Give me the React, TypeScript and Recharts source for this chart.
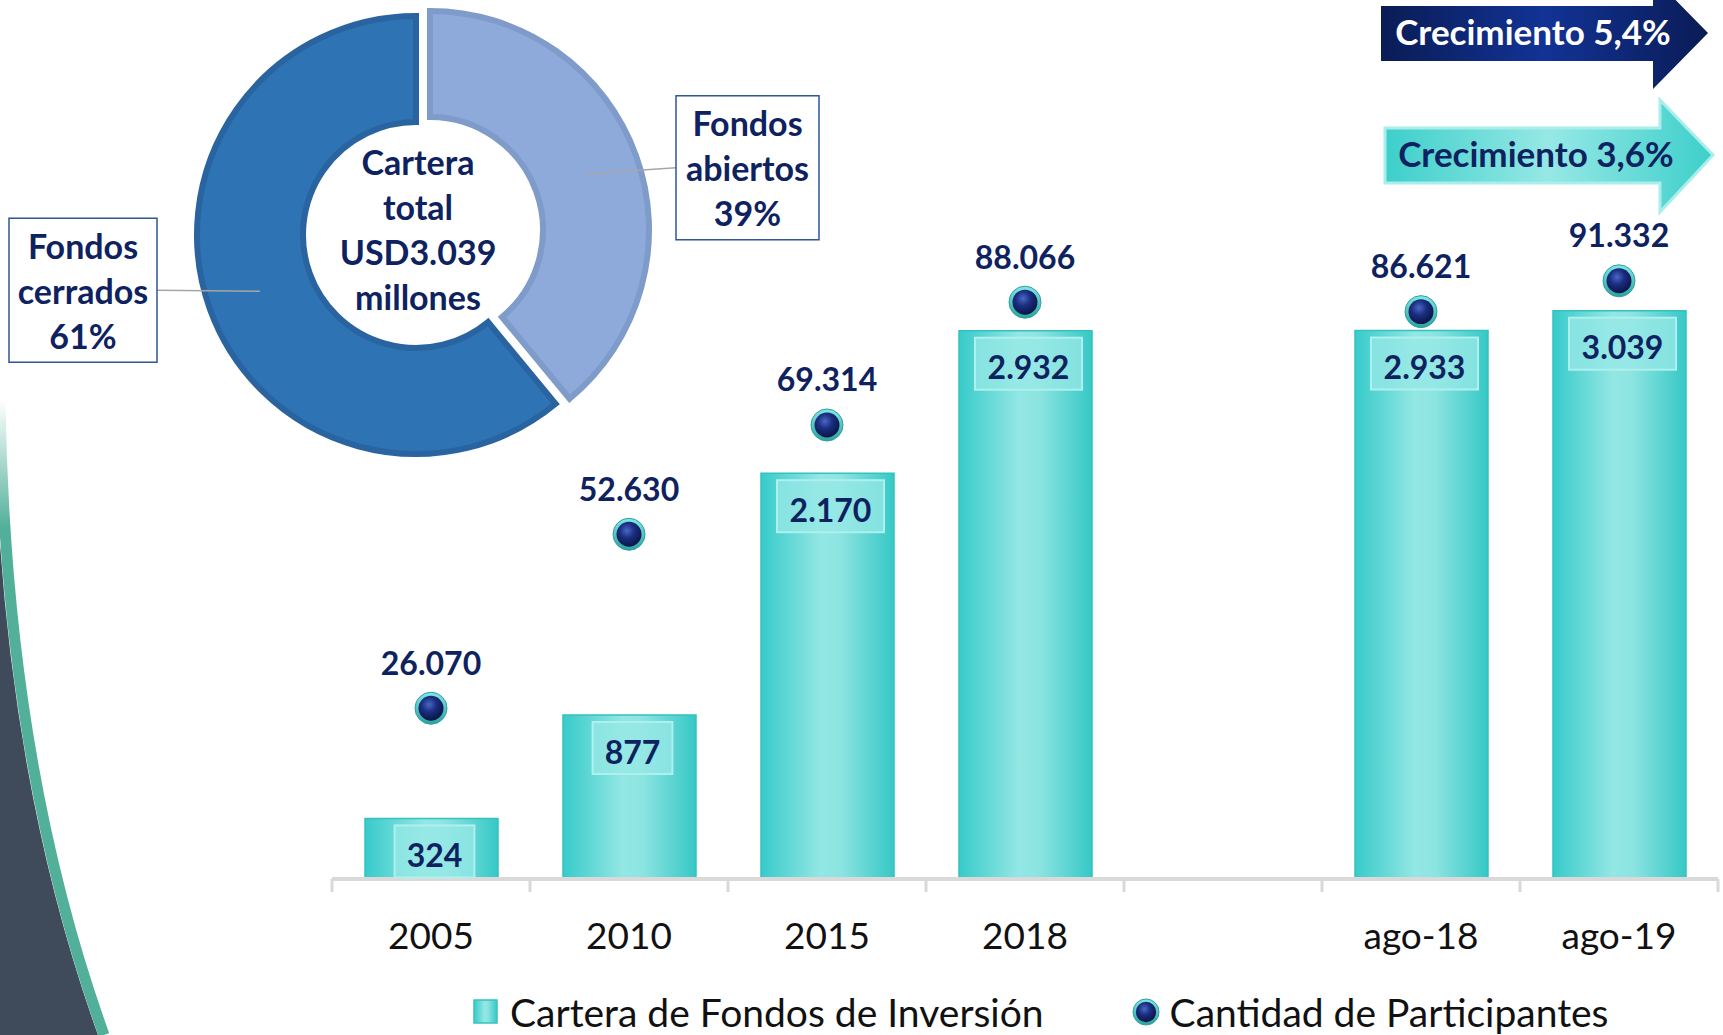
import React from 'react'
import { ComposedChart, Bar, Line, XAxis, YAxis, LabelList, Legend, PieChart, Pie, Cell } from 'recharts'

// ---- data ----
const categories = ['2005', '2010', '2015', '2018', ' ', 'ago-18', 'ago-19']
const cartera = [324, 877, 2170, 2932, null, 2933, 3039]
const participantes = [26070, 52630, 69314, 88066, null, 86621, 91332]

const pieNames = ['Fondos abiertos', 'Fondos cerrados']
const pieValues = [39, 61]
const centerLines = ['Cartera', 'total', 'USD3.039', 'millones']
const growthLabels = ['Crecimiento 5,4%', 'Crecimiento 3,6%']

const seriesNames = ['Cartera de Fondos de Inversión', 'Cantidad de Participantes']

const chartData = categories.map((cat, i) => ({ cat, cartera: cartera[i], participantes: participantes[i] }))
const pieData = pieNames.map((name, i) => ({ name, value: pieValues[i] }))

const NAVY = '#0e225f'
const FONT = 'Lato, "Open Sans", sans-serif'
const DARK = '#2e74b5'
const DARK_STROKE = '#2964a0'
const LIGHT = '#8eaadb'
const LIGHT_STROKE = '#7e9bca'
const AXIS_GRAY = '#d9d9d9'

const PLOT_LEFT = 332
const PLOT_RIGHT = 1718
const BAND = (PLOT_RIGHT - PLOT_LEFT) / categories.length

const fmt = (n: number) => String(n).replace(/\B(?=(\d{3})+(?!\d))/g, '.')

// category label + tick marks on the category boundaries
const CategoryTick = ({ x, y, payload, index }: any) => (
  <g>
    <line x1={x - BAND / 2} y1={y} x2={x - BAND / 2} y2={y + 13} stroke={AXIS_GRAY} strokeWidth={3} />
    {index === categories.length - 1 && (
      <line x1={x + BAND / 2} y1={y} x2={x + BAND / 2} y2={y + 13} stroke={AXIS_GRAY} strokeWidth={3} />
    )}
    <text x={x} y={y + 55} textAnchor="middle" dominantBaseline="central" fontSize={37} fill="#111" fontFamily={FONT}>
      {payload.value}
    </text>
  </g>
)

const BarValueLabel = (props: any) => {
  const { x, y, width, height, value } = props
  if (value == null) return null
  const text = fmt(value)
  const dots = (text.match(/\./g) || []).length
  const tw = (text.length - dots) * 18.6 + dots * 8.6
  const bw = tw + 24
  const cx = x + width / 2 + 3
  const bh = Math.min(52, height - 5)
  return (
    <g>
      <rect x={cx - bw / 2} y={y + 7} width={bw} height={bh} fill="#97e8e5" fillOpacity={0.75} stroke="#aef0ed" strokeWidth={2} />
      <text x={cx} y={y + 36} textAnchor="middle" dominantBaseline="central" fontSize={32} fontWeight={700} fill={NAVY} fontFamily={FONT}>
        {text}
      </text>
    </g>
  )
}

const ParticipantLabel = (props: any) => {
  const { x, y, value } = props
  if (value == null) return null
  return (
    <text x={x} y={y - 46} textAnchor="middle" dominantBaseline="central" fontSize={32} fontWeight={700} fill={NAVY} fontFamily={FONT}>
      {fmt(value)}
    </text>
  )
}

const Sphere = ({ cx, cy, r }: { cx: number; cy: number; r: number }) => (
  <g>
    <circle cx={cx} cy={cy} r={r} fill="url(#ringGrad)" stroke="#2f9f9d" strokeWidth={1} />
    <circle cx={cx} cy={cy} r={r * 0.78} fill="url(#sphereGrad)" />
  </g>
)

const renderDot = (props: any) => {
  const { cx, cy, index } = props
  if (cy == null || isNaN(cy)) return <g key={`d${index}`} />
  return <g key={`d${index}`}><Sphere cx={cx} cy={cy} r={16} /></g>
}

const renderPieLabel = (props: any, withCenter: boolean) => {
  const { cx, cy, midAngle, innerRadius, outerRadius, name, value } = props
  const RAD = Math.PI / 180
  const r = (innerRadius + outerRadius) / 2
  const cos = Math.cos(-midAngle * RAD)
  const px = cx + r * cos
  const py = cy + r * Math.sin(-midAngle * RAD)
  const right = cos > 0
  const edge = right ? cx + 246 : cx - 259
  const w = right ? 143 : 148
  const h = 144
  const bx = right ? edge : edge - w
  const my = py + (right ? -6 : -1)
  const lines = [...String(name).split(' '), `${value}%`]
  return (
    <g>
      <line x1={px} y1={py} x2={edge} y2={my} stroke="#a6a6a6" strokeWidth={1.5} />
      <rect x={bx} y={my - h / 2} width={w} height={h} fill="#fff" stroke="#2f5597" strokeWidth={1.5} />
      {lines.map((t, i) => (
        <text key={i} x={bx + w / 2} y={my + (i - 1) * 45} textAnchor="middle" dominantBaseline="central"
          fontSize={34} fontWeight={700} fill={NAVY} fontFamily={FONT}>{t}</text>
      ))}
      {withCenter && centerLines.map((t, i) => (
        <text key={`c${i}`} x={cx + 2} y={cy - 74 + i * 45} textAnchor="middle" dominantBaseline="central"
          fontSize={34} fontWeight={700} fill={NAVY} fontFamily={FONT}>{t}</text>
      ))}
    </g>
  )
}

const LegendContent = (props: any) => {
  const payload = [...(props.payload || [])].sort((a: any, b: any) =>
    seriesNames.indexOf(a.value) - seriesNames.indexOf(b.value))
  return (
    <div style={{ display: 'flex', alignItems: 'center', gap: 88, fontFamily: FONT, fontSize: 39, color: '#111', whiteSpace: 'nowrap' }}>
      {payload.map((p: any, i: number) => (
        <div key={i} style={{ display: 'flex', alignItems: 'center', gap: 10 }}>
          <svg width={28} height={28}>
            {p.dataKey === 'cartera'
              ? <rect x={2} y={2} width={23} height={23} fill="url(#barGrad)" stroke="#34c3c1" strokeWidth={1.5} />
              : <Sphere cx={14} cy={14} r={13} />}
          </svg>
          <span>{p.value}</span>
        </div>
      ))}
    </div>
  )
}

export default function App() {
  return (
    <div style={{ position: 'absolute', left: 0, top: 0, width: 1723, height: 1035, background: '#fff', overflow: 'hidden' }}>
      <svg width={0} height={0} style={{ position: 'absolute' }}>
        <defs>
          <linearGradient id="barGrad" x1="0" y1="0" x2="1" y2="0">
            <stop offset="0%" stopColor="#37cbca" />
            <stop offset="45%" stopColor="#93e7e4" />
            <stop offset="60%" stopColor="#8ce4e1" />
            <stop offset="100%" stopColor="#36c8c6" />
          </linearGradient>
          <radialGradient id="sphereGrad" cx="42%" cy="35%" r="65%">
            <stop offset="0%" stopColor="#4a68c4" />
            <stop offset="45%" stopColor="#1b2f82" />
            <stop offset="100%" stopColor="#0a1446" />
          </radialGradient>
          <linearGradient id="ringGrad" x1="0" y1="0" x2="0" y2="1">
            <stop offset="0%" stopColor="#7fe9e6" />
            <stop offset="100%" stopColor="#2aa3a1" />
          </linearGradient>
          <linearGradient id="darkArrow" x1="0" y1="0" x2="1" y2="0">
            <stop offset="0%" stopColor="#0a1c55" />
            <stop offset="50%" stopColor="#123396" />
            <stop offset="100%" stopColor="#0a1c55" />
          </linearGradient>
          <linearGradient id="tealArrow" x1="0" y1="0" x2="1" y2="0">
            <stop offset="0%" stopColor="#3dcfcb" />
            <stop offset="50%" stopColor="#96e8e5" />
            <stop offset="100%" stopColor="#3dcfcb" />
          </linearGradient>
          <linearGradient id="stripeFade" x1="0" y1="0" x2="0" y2="1">
            <stop offset="0%" stopColor="#52b09a" stopOpacity={0} />
            <stop offset="20%" stopColor="#52b09a" stopOpacity={1} />
            <stop offset="100%" stopColor="#52b09a" />
          </linearGradient>
        </defs>
      </svg>

      {/* background decorations */}
      <svg width={1723} height={1035} style={{ position: 'absolute', left: 0, top: 0 }}>
        <path d="M-6,400 Q-1,760 98,1035 L0,1035 L0,500 Z" fill="#3f4b5b" />
        <path d="M0,400 Q5,760 104,1035" fill="none" stroke="url(#stripeFade)" strokeWidth={11} />
        <polygon points="1381,6 1653,6 1653,-23 1708,33 1653,89 1653,61 1381,61" fill="url(#darkArrow)" />
        <text x={1533} y={31} textAnchor="middle" dominantBaseline="central" fontSize={35} fontWeight={700} fill="#fff" fontFamily={FONT}>
          {growthLabels[0]}
        </text>
        <polygon points="1385,128 1660,128 1660,100 1713,155 1660,212 1660,183 1385,183" fill="url(#tealArrow)" stroke="#a8eeeb" strokeWidth={3} />
        <text x={1536} y={153} textAnchor="middle" dominantBaseline="central" fontSize={35} fontWeight={700} fill={NAVY} fontFamily={FONT}>
          {growthLabels[1]}
        </text>
      </svg>

      <div style={{ position: 'absolute', left: 0, top: 0 }}>
        <ComposedChart width={1723} height={1035} data={chartData}
          margin={{ top: 131, right: 1723 - PLOT_RIGHT, bottom: 96, left: PLOT_LEFT }}>
          <XAxis dataKey="cat" height={60} axisLine={{ stroke: AXIS_GRAY, strokeWidth: 4 }} tickLine={false}
            tickSize={0} tickMargin={0} tick={<CategoryTick />} interval={0} />
          <YAxis yAxisId="bar" domain={[0, 4000]} hide />
          <YAxis yAxisId="dot" domain={[0, 114200]} hide />
          <Bar dataKey="cartera" name={seriesNames[0]} yAxisId="bar" barSize={133} fill="url(#barGrad)" stroke="#33c2c0" strokeWidth={1.5} isAnimationActive={false}>
            <LabelList dataKey="cartera" content={BarValueLabel} />
          </Bar>
          <Line dataKey="participantes" name={seriesNames[1]} yAxisId="dot" stroke="none" dot={renderDot} activeDot={false} isAnimationActive={false}>
            <LabelList dataKey="participantes" content={ParticipantLabel} />
          </Line>
          <Legend layout="vertical" align="center" verticalAlign="middle" content={<LegendContent />}
            wrapperStyle={{ position: 'absolute', left: 472, top: 989, width: 1250 }} />
        </ComposedChart>
      </div>

      {/* donut */}
      <div style={{ position: 'absolute', left: 0, top: 0 }}>
        <PieChart width={900} height={500} margin={{ top: 0, right: 0, bottom: 0, left: 0 }}>
          <Pie data={pieData} dataKey="value" nameKey="name" cx={416} cy={235} innerRadius={113} outerRadius={219}
            startAngle={90} endAngle={-270} isAnimationActive={false} labelLine={false}
            label={(p: any) => (p.index === 1 ? renderPieLabel(p, true) : <g />)}>
            <Cell fill="transparent" stroke="transparent" />
            <Cell fill={DARK} stroke={DARK_STROKE} strokeWidth={6} />
          </Pie>
          <Pie data={pieData} dataKey="value" nameKey="name" cx={430} cy={230} innerRadius={113} outerRadius={219}
            startAngle={90} endAngle={-270} isAnimationActive={false} labelLine={false}
            label={(p: any) => (p.index === 0 ? renderPieLabel(p, false) : <g />)}>
            <Cell fill={LIGHT} stroke={LIGHT_STROKE} strokeWidth={6} />
            <Cell fill="transparent" stroke="transparent" />
          </Pie>
        </PieChart>
      </div>
    </div>
  )
}
